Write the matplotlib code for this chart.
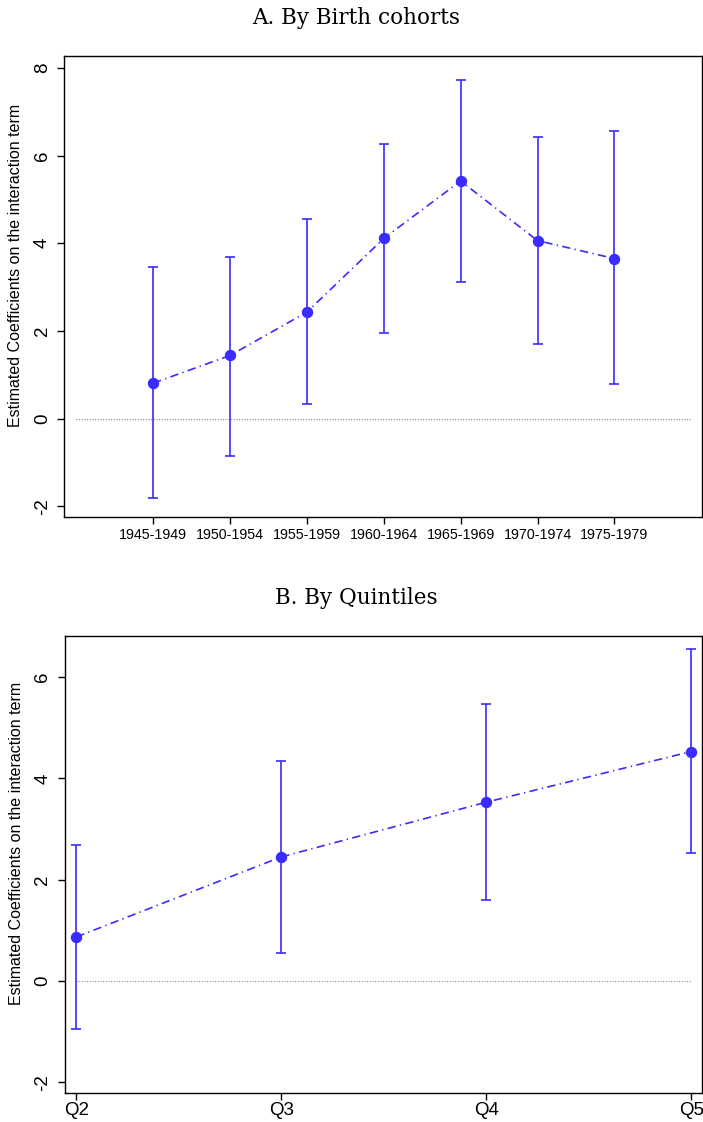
import matplotlib
matplotlib.use("Agg")
import matplotlib.pyplot as plt

# ---- data ----
cohorts = ["1945-1949", "1950-1954", "1955-1959", "1960-1964", "1965-1969", "1970-1974", "1975-1979"]
cohort_coef = [0.81, 1.44, 2.43, 4.11, 5.42, 4.06, 3.65]
cohort_upper = [3.46, 3.69, 4.55, 6.26, 7.73, 6.43, 6.55]
cohort_lower = [-1.82, -0.86, 0.33, 1.95, 3.11, 1.70, 0.78]

quintiles = ["Q2", "Q3", "Q4", "Q5"]
quint_coef = [0.87, 2.45, 3.53, 4.53]
quint_upper = [2.69, 4.35, 5.47, 6.55]
quint_lower = [-0.94, 0.56, 1.60, 2.52]

ylab = "Estimated Coefficients on the interaction term"
COLOR = "#3a2bff"
W, H = 703, 1122

plt.rcParams['font.family'] = ['Liberation Sans', 'DejaVu Sans']

fig = plt.figure(figsize=(W / 100, H / 100), dpi=100)
fig.patch.set_facecolor("white")


def panel(rect, xs, labels, coef, lo, hi, xlim, ylim, yticks, hline, xfs, xpad, ylab_y):
    ax = fig.add_axes(rect)
    yerr = [[c - l for c, l in zip(coef, lo)], [h - c for c, h in zip(coef, hi)]]
    ax.errorbar(xs, coef, yerr=yerr, fmt='none', ecolor=COLOR, elinewidth=1.2,
                capsize=3.3, capthick=1.2, zorder=3)
    ax.plot(xs, coef, color=COLOR, lw=1.2, dashes=[5.0, 2.6, 0.8, 2.6], zorder=3)
    ax.plot(xs, coef, 'o', color=COLOR, ms=7.2, zorder=4)
    ax.plot(hline, [0, 0], color="#777777", lw=0.8, ls=(0, (0.8, 1.6)), zorder=2)
    ax.set_xlim(*xlim)
    ax.set_ylim(*ylim)
    ax.set_xticks(xs)
    ax.set_xticklabels(labels, fontsize=xfs)
    ax.set_yticks(yticks)
    ax.set_yticklabels([str(t) for t in yticks], rotation=90, va='center', fontsize=13.5)
    ax.tick_params(axis='y', direction='out', length=5, width=1, pad=4.5)
    ax.tick_params(axis='x', direction='out', length=5, width=1, pad=xpad)
    for s in ax.spines.values():
        s.set_linewidth(1.0)
    ax.set_ylabel(ylab, fontsize=11.5)
    ax.yaxis.set_label_coords(-0.064, ylab_y)
    return ax


x1 = list(range(1, len(cohorts) + 1))
panel([64 / W, 1 - 517.3 / H, (702 - 64) / W, (517.3 - 56) / H],
      x1, cohorts, cohort_coef, cohort_lower, cohort_upper,
      (-0.16, 8.14), (-2.25, 8.27), [-2, 0, 2, 4, 6, 8], [0, 8], 10.3, 3, 0.545)

x2 = list(range(2, 2 + len(quintiles)))
panel([64.5 / W, 1 - 1093 / H, (701.5 - 64.5) / W, (1093 - 636) / H],
      x2, quintiles, quint_coef, quint_lower, quint_upper,
      (1.942, 5.05), (-2.21, 6.81), [-2, 0, 2, 4, 6], [2, 5], 13.5, 1.5, 0.547)

fig.text(356 / W, 1 - 18 / H, "A. By Birth cohorts", family='DejaVu Serif', fontsize=15.5,
         ha='center', va='center')
fig.text(356 / W, 1 - 598 / H, "B. By Quintiles", family='DejaVu Serif', fontsize=15.5,
         ha='center', va='center')

fig.savefig("out.png", dpi=100, facecolor="white")
